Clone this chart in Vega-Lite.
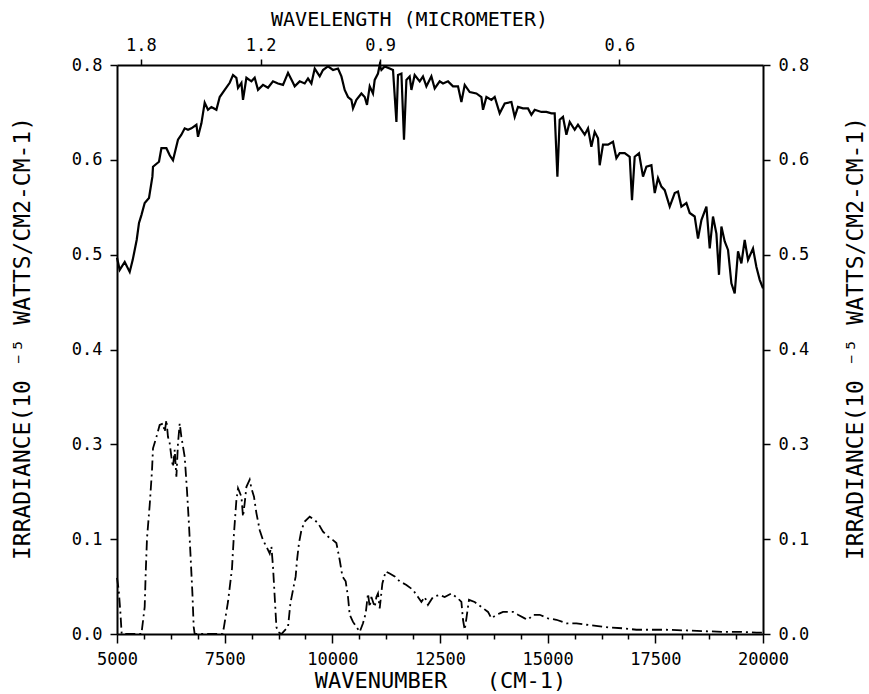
{
  "$schema": "https://vega.github.io/schema/vega-lite/v6.json",
  "width": 646,
  "height": 569,
  "autosize": {"type": "none"},
  "padding": {"left": 117, "top": 65, "right": 106, "bottom": 60},
  "background": "white",
  "config": {
    "view": {"stroke": null},
    "axis": {
      "grid": false,
      "domainColor": "black",
      "domainWidth": 2,
      "tickColor": "black",
      "tickWidth": 1.5,
      "labelFont": "DejaVu Sans Mono",
      "labelFontSize": 17,
      "labelColor": "black",
      "titleFont": "DejaVu Sans Mono",
      "titleFontSize": 20,
      "titleFontWeight": "normal",
      "titleColor": "black",
      "labelOverlap": false,
      "labelFlush": false,
      "labelBound": false
    }
  },
  "datasets": {
    "solar": [
      {"w":5000,"v":0.529},{"w":5063,"v":0.512},{"w":5179,"v":0.523},{"w":5295,"v":0.509},{"w":5365,"v":0.526},{"w":5457,"v":0.554},{"w":5511,"v":0.578},{"w":5567,"v":0.589},{"w":5643,"v":0.606},{"w":5743,"v":0.613},{"w":5822,"v":0.643},{"w":5836,"v":0.657},{"w":5975,"v":0.664},{"w":6031,"v":0.683},{"w":6147,"v":0.683},{"w":6224,"v":0.673},{"w":6300,"v":0.666},{"w":6416,"v":0.695},{"w":6495,"v":0.702},{"w":6572,"v":0.711},{"w":6649,"v":0.709},{"w":6728,"v":0.711},{"w":6844,"v":0.716},{"w":6881,"v":0.699},{"w":6960,"v":0.718},{"w":7036,"v":0.747},{"w":7113,"v":0.737},{"w":7192,"v":0.741},{"w":7308,"v":0.737},{"w":7385,"v":0.755},{"w":7501,"v":0.765},{"w":7617,"v":0.775},{"w":7694,"v":0.786},{"w":7772,"v":0.782},{"w":7810,"v":0.768},{"w":7889,"v":0.775},{"w":7926,"v":0.751},{"w":8005,"v":0.782},{"w":8121,"v":0.777},{"w":8197,"v":0.782},{"w":8274,"v":0.765},{"w":8390,"v":0.772},{"w":8506,"v":0.768},{"w":8622,"v":0.777},{"w":8738,"v":0.774},{"w":8855,"v":0.772},{"w":8971,"v":0.789},{"w":9087,"v":0.775},{"w":9126,"v":0.770},{"w":9242,"v":0.777},{"w":9358,"v":0.774},{"w":9435,"v":0.781},{"w":9514,"v":0.774},{"w":9591,"v":0.795},{"w":9707,"v":0.784},{"w":9783,"v":0.793},{"w":9899,"v":0.798},{"w":10016,"v":0.793},{"w":10132,"v":0.795},{"w":10211,"v":0.784},{"w":10287,"v":0.765},{"w":10364,"v":0.755},{"w":10443,"v":0.751},{"w":10480,"v":0.739},{"w":10559,"v":0.751},{"w":10675,"v":0.760},{"w":10752,"v":0.755},{"w":10805,"v":0.744},{"w":10868,"v":0.770},{"w":10944,"v":0.760},{"w":10984,"v":0.779},{"w":11060,"v":0.788},{"w":11100,"v":0.800},{"w":11139,"v":0.793},{"w":11216,"v":0.798},{"w":11332,"v":0.795},{"w":11409,"v":0.793},{"w":11488,"v":0.720},{"w":11525,"v":0.786},{"w":11604,"v":0.788},{"w":11664,"v":0.695},{"w":11720,"v":0.779},{"w":11796,"v":0.784},{"w":11836,"v":0.765},{"w":11912,"v":0.786},{"w":12029,"v":0.777},{"w":12105,"v":0.784},{"w":12184,"v":0.770},{"w":12300,"v":0.784},{"w":12377,"v":0.767},{"w":12493,"v":0.777},{"w":12570,"v":0.774},{"w":12686,"v":0.777},{"w":12802,"v":0.770},{"w":12918,"v":0.770},{"w":12997,"v":0.748},{"w":13074,"v":0.772},{"w":13190,"v":0.762},{"w":13345,"v":0.760},{"w":13461,"v":0.755},{"w":13499,"v":0.737},{"w":13578,"v":0.755},{"w":13694,"v":0.751},{"w":13770,"v":0.755},{"w":13886,"v":0.732},{"w":14003,"v":0.746},{"w":14158,"v":0.748},{"w":14235,"v":0.727},{"w":14311,"v":0.741},{"w":14427,"v":0.739},{"w":14543,"v":0.739},{"w":14622,"v":0.730},{"w":14699,"v":0.737},{"w":14855,"v":0.734},{"w":14971,"v":0.734},{"w":15087,"v":0.732},{"w":15163,"v":0.732},{"w":15226,"v":0.643},{"w":15279,"v":0.723},{"w":15356,"v":0.727},{"w":15435,"v":0.702},{"w":15512,"v":0.720},{"w":15628,"v":0.709},{"w":15704,"v":0.716},{"w":15860,"v":0.702},{"w":15937,"v":0.711},{"w":16015,"v":0.685},{"w":16092,"v":0.706},{"w":16169,"v":0.697},{"w":16208,"v":0.659},{"w":16285,"v":0.688},{"w":16401,"v":0.688},{"w":16517,"v":0.692},{"w":16596,"v":0.669},{"w":16673,"v":0.676},{"w":16789,"v":0.676},{"w":16905,"v":0.671},{"w":16958,"v":0.610},{"w":17021,"v":0.671},{"w":17121,"v":0.676},{"w":17214,"v":0.643},{"w":17293,"v":0.657},{"w":17409,"v":0.659},{"w":17486,"v":0.620},{"w":17562,"v":0.641},{"w":17641,"v":0.629},{"w":17718,"v":0.624},{"w":17834,"v":0.601},{"w":17950,"v":0.620},{"w":18026,"v":0.622},{"w":18105,"v":0.601},{"w":18221,"v":0.606},{"w":18298,"v":0.592},{"w":18414,"v":0.587},{"w":18491,"v":0.556},{"w":18570,"v":0.582},{"w":18686,"v":0.601},{"w":18763,"v":0.542},{"w":18839,"v":0.587},{"w":18918,"v":0.563},{"w":18978,"v":0.505},{"w":19034,"v":0.573},{"w":19111,"v":0.552},{"w":19188,"v":0.540},{"w":19266,"v":0.493},{"w":19343,"v":0.479},{"w":19420,"v":0.538},{"w":19498,"v":0.521},{"w":19575,"v":0.554},{"w":19652,"v":0.526},{"w":19768,"v":0.542},{"w":19847,"v":0.516},{"w":19924,"v":0.498},{"w":20000,"v":0.486}
    ],
    "trans": [
      {"w":5000,"v":0.079},{"w":5039,"v":0.062},{"w":5079,"v":0.030},{"w":5109,"v":0},{"w":5567,"v":0},{"w":5643,"v":0.038},{"w":5666,"v":0.085},{"w":5697,"v":0.135},{"w":5759,"v":0.181},{"w":5813,"v":0.230},{"w":5836,"v":0.261},{"w":5915,"v":0.277},{"w":5991,"v":0.294},{"w":6068,"v":0.296},{"w":6108,"v":0.284},{"w":6147,"v":0.301},{"w":6184,"v":0.277},{"w":6224,"v":0.268},{"w":6263,"v":0.249},{"w":6300,"v":0.235},{"w":6340,"v":0.259},{"w":6379,"v":0.221},{"w":6416,"v":0.268},{"w":6456,"v":0.296},{"w":6495,"v":0.277},{"w":6572,"v":0.249},{"w":6625,"v":0.202},{"w":6672,"v":0.153},{"w":6711,"v":0.106},{"w":6751,"v":0.057},{"w":6781,"v":0.010},{"w":6804,"v":0},{"w":7450,"v":0},{"w":7478,"v":0.008},{"w":7577,"v":0.045},{"w":7670,"v":0.092},{"w":7717,"v":0.142},{"w":7772,"v":0.188},{"w":7810,"v":0.205},{"w":7889,"v":0.193},{"w":7926,"v":0.165},{"w":7965,"v":0.184},{"w":8005,"v":0.207},{"w":8081,"v":0.217},{"w":8121,"v":0.205},{"w":8181,"v":0.193},{"w":8237,"v":0.170},{"w":8314,"v":0.146},{"w":8390,"v":0.132},{"w":8469,"v":0.123},{"w":8546,"v":0.113},{"w":8585,"v":0.123},{"w":8622,"v":0.095},{"w":8662,"v":0.052},{"w":8701,"v":0.010},{"w":8738,"v":0.003},{"w":8817,"v":0},{"w":8971,"v":0.010},{"w":9026,"v":0.043},{"w":9103,"v":0.067},{"w":9149,"v":0.081},{"w":9180,"v":0.104},{"w":9226,"v":0.128},{"w":9282,"v":0.146},{"w":9358,"v":0.158},{"w":9475,"v":0.165},{"w":9591,"v":0.160},{"w":9667,"v":0.156},{"w":9783,"v":0.144},{"w":9899,"v":0.137},{"w":10016,"v":0.132},{"w":10094,"v":0.128},{"w":10171,"v":0.104},{"w":10234,"v":0.081},{"w":10310,"v":0.074},{"w":10364,"v":0.052},{"w":10403,"v":0.027},{"w":10480,"v":0.017},{"w":10559,"v":0.010},{"w":10636,"v":0.003},{"w":10712,"v":0.015},{"w":10775,"v":0.029},{"w":10805,"v":0.045},{"w":10828,"v":0.057},{"w":10868,"v":0.038},{"w":10907,"v":0.052},{"w":10984,"v":0.038},{"w":11023,"v":0.052},{"w":11060,"v":0.057},{"w":11100,"v":0.036},{"w":11162,"v":0.071},{"w":11239,"v":0.088},{"w":11332,"v":0.085},{"w":11448,"v":0.081},{"w":11564,"v":0.074},{"w":11720,"v":0.069},{"w":11873,"v":0.062},{"w":11989,"v":0.052},{"w":12068,"v":0.045},{"w":12145,"v":0.052},{"w":12221,"v":0.041},{"w":12338,"v":0.052},{"w":12493,"v":0.055},{"w":12609,"v":0.052},{"w":12765,"v":0.057},{"w":12918,"v":0.050},{"w":12997,"v":0.045},{"w":13034,"v":0.020},{"w":13074,"v":0.006},{"w":13113,"v":0.022},{"w":13150,"v":0.038},{"w":13173,"v":0.048},{"w":13305,"v":0.045},{"w":13461,"v":0.038},{"w":13615,"v":0.031},{"w":13694,"v":0.022},{"w":13810,"v":0.027},{"w":13886,"v":0.029},{"w":13963,"v":0.031},{"w":14079,"v":0.031},{"w":14195,"v":0.031},{"w":14311,"v":0.027},{"w":14467,"v":0.022},{"w":14544,"v":0.020},{"w":14660,"v":0.027},{"w":14815,"v":0.027},{"w":15008,"v":0.022},{"w":15203,"v":0.020},{"w":15435,"v":0.015},{"w":15667,"v":0.015},{"w":15899,"v":0.013},{"w":16169,"v":0.011},{"w":16440,"v":0.009},{"w":16749,"v":0.008},{"w":17060,"v":0.006},{"w":17446,"v":0.006},{"w":17757,"v":0.006},{"w":18221,"v":0.005},{"w":18607,"v":0.004},{"w":19071,"v":0.003},{"w":19458,"v":0.003},{"w":19847,"v":0.002},{"w":20000,"v":0.002}
    ]
  },
  "layer": [
    {
      "data": {"name": "solar"},
      "mark": {"type": "line", "color": "black", "strokeWidth": 2.2},
      "encoding": {
        "x": {
          "field": "w", "type": "quantitative",
          "scale": {"domain": [5000, 20000], "nice": false, "zero": false},
          "axis": {
            "orient": "bottom",
            "values": [5000,5625,6250,6875,7500,8125,8750,9375,10000,10625,11250,11875,12500,13125,13750,14375,15000,15625,16250,16875,17500,18125,18750,19375,20000],
            "format": "d",
            "labelExpr": "datum.value % 2500 === 0 ? datum.label : ''",
            "tickSize": {"condition": {"test": "datum.value % 2500 === 0", "value": 9}, "value": 5},
            "labelPadding": 8,
            "title": "WAVENUMBER\u00a0\u00a0\u00a0(CM-1)",
            "titleFontSize": 22,
            "titlePadding": 3
          }
        },
        "y": {
          "field": "v", "type": "quantitative",
          "scale": {"domain": [0, 0.8], "nice": false},
          "axis": {
            "orient": "left",
            "values": [0, 0.133333, 0.266667, 0.4, 0.533333, 0.666667, 0.8],
            "labelExpr": "['0.0','0.1','0.3','0.4','0.5','0.6','0.8'][round(datum.value*7.5)]",
            "tickSize": 7,
            "labelPadding": 8,
            "title": "IRRADIANCE(10 \u207b\u2075 WATTS/CM2-CM-1)",
            "titleFontSize": 23,
            "titleAngle": -90,
            "titleAlign": "center",
            "titleBaseline": "middle",
            "titleX": -95,
            "titleY": 273
          }
        }
      }
    },
    {
      "data": {"name": "trans"},
      "mark": {"type": "line", "color": "black", "strokeWidth": 1.8, "strokeDash": [10, 4, 2, 4]},
      "encoding": {
        "x": {
          "field": "w", "type": "quantitative",
          "axis": {
            "orient": "top",
            "values": [5555.56, 8333.33, 11111.11, 16666.67],
            "labelExpr": "datum.value < 6000 ? '1.8' : datum.value < 9000 ? '1.2' : datum.value < 12000 ? '0.9' : '0.6'",
            "tickSize": 6,
            "labelPadding": 5,
            "title": "WAVELENGTH (MICROMETER)",
            "titleAlign": "center",
            "titleBaseline": "middle",
            "titleX": 292,
            "titleY": -46
          }
        },
        "y": {
          "field": "v", "type": "quantitative",
          "axis": {
            "orient": "right",
            "values": [0, 0.133333, 0.266667, 0.4, 0.533333, 0.666667, 0.8],
            "labelExpr": "['0.0','0.1','0.3','0.4','0.5','0.6','0.8'][round(datum.value*7.5)]",
            "tickSize": 7,
            "labelPadding": 8,
            "title": "IRRADIANCE(10 \u207b\u2075 WATTS/CM2-CM-1)",
            "titleFontSize": 23,
            "titleAngle": -90,
            "titleAlign": "center",
            "titleBaseline": "middle",
            "titleX": 92,
            "titleY": 273
          }
        }
      }
    }
  ],
  "resolve": {"axis": {"x": "independent", "y": "independent"}}
}
